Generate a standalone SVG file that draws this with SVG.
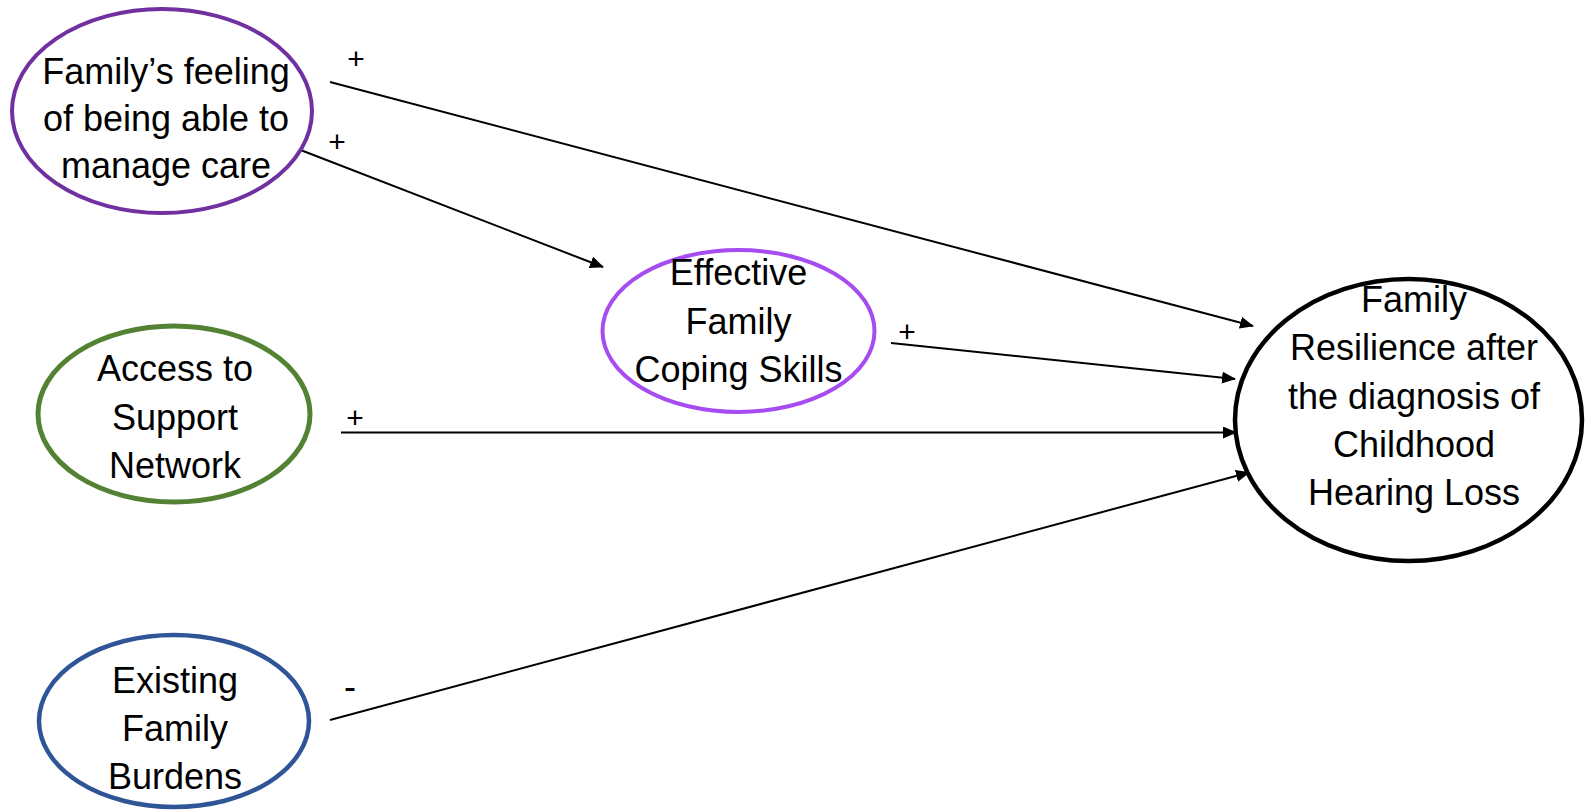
<svg xmlns="http://www.w3.org/2000/svg" width="1585" height="812" viewBox="0 0 1585 812">
  <style>
    .node { fill: #ffffff; }
    .label { font-family: "Liberation Sans", Arial, sans-serif; font-size: 36px; fill: #000000; text-anchor: middle; }
    .sign { font-family: "Liberation Sans", Arial, sans-serif; font-size: 30px; fill: #000000; text-anchor: middle; }
    .link { stroke: #000000; stroke-width: 2; fill: none; marker-end: url(#arrow); }
  </style>
  <defs>
    <marker id="arrow" markerUnits="userSpaceOnUse" markerWidth="14" markerHeight="12" viewBox="0 0 14 12" refX="13" refY="6" orient="auto">
      <path d="M0,0 L14,6 L0,12 Z" fill="#000000"/>
    </marker>
  </defs>

  <rect width="1585" height="812" fill="#ffffff"/>

  <!-- causal links -->
  <g id="connectors">
    <line class="link" x1="330" y1="82" x2="1253" y2="326"/>
    <line class="link" x1="298" y1="149" x2="603" y2="267"/>
    <line class="link" x1="891" y1="343" x2="1235" y2="379"/>
    <line class="link" x1="341" y1="432.5" x2="1236" y2="432.5"/>
    <line class="link" x1="330" y1="720" x2="1249" y2="472.5"/>
    <text class="sign" x="356" y="68.5">+</text>
    <text class="sign" x="337" y="151.5">+</text>
    <text class="sign" x="907" y="341.5">+</text>
    <text class="sign" x="355" y="427.5">+</text>
    <text class="sign" x="350" y="699" style="font-size:36px">-</text>
  </g>

  <g id="node-manage-care">
    <ellipse class="node" cx="162" cy="111" rx="150" ry="102" stroke="#7030A0" stroke-width="4"/>
    <text class="label" x="166" y="84">Family’s feeling</text>
    <text class="label" x="166" y="131">of being able to</text>
    <text class="label" x="166" y="178">manage care</text>
  </g>

  <g id="node-coping-skills">
    <ellipse class="node" cx="738.5" cy="331" rx="136" ry="81" stroke="#A64CF0" stroke-width="4"/>
    <text class="label" x="738.5" y="285">Effective</text>
    <text class="label" x="738.5" y="334">Family</text>
    <text class="label" x="738.5" y="382">Coping Skills</text>
  </g>

  <g id="node-support-network">
    <ellipse class="node" cx="174" cy="414" rx="136" ry="88" stroke="#548235" stroke-width="5"/>
    <text class="label" x="175" y="381">Access to</text>
    <text class="label" x="175" y="430">Support</text>
    <text class="label" x="175" y="478">Network</text>
  </g>

  <g id="node-family-burdens">
    <ellipse class="node" cx="174" cy="721" rx="135" ry="86" stroke="#2F5597" stroke-width="4.5"/>
    <text class="label" x="175" y="693">Existing</text>
    <text class="label" x="175" y="741">Family</text>
    <text class="label" x="175" y="789">Burdens</text>
  </g>

  <g id="node-family-resilience">
    <ellipse class="node" cx="1408.5" cy="420" rx="173.5" ry="141" stroke="#000000" stroke-width="4.5"/>
    <text class="label" x="1414" y="312">Family</text>
    <text class="label" x="1414" y="360">Resilience after</text>
    <text class="label" x="1414" y="409">the diagnosis of</text>
    <text class="label" x="1414" y="457">Childhood</text>
    <text class="label" x="1414" y="505">Hearing Loss</text>
  </g>
</svg>
